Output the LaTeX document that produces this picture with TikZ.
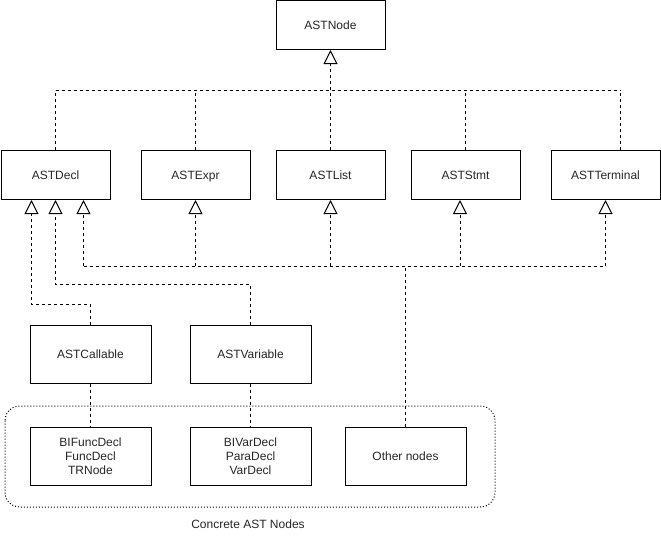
\documentclass[tikz,border=0pt]{standalone}
\usepackage{fontspec}
\setmainfont{Liberation Sans}
\usetikzlibrary{arrows.meta,calc}
\begin{document}
\begin{tikzpicture}[x=0.75pt,y=-0.75pt,
  box/.style={draw, line width=0.75pt, inner sep=0pt, align=center,
    font=\fontsize{9}{10.5}\selectfont, text=black!85},
  oneline/.style={text height=1.6ex, text depth=0.4ex},
  smallbox/.style={box, oneline, minimum width=81.75pt, minimum height=36.75pt},
  bigbox/.style={box, minimum width=90.75pt, minimum height=43.5pt},
  conn/.style={line width=0.75pt, dash pattern=on 2.25pt off 2.25pt},
  inh/.style={conn, -{Triangle[open, length=10.5pt, width=10.5pt, line width=0.75pt]}},
  group/.style={line width=0.75pt, dash pattern=on 0.75pt off 1.5pt, rounded corners=11pt},
]
\useasboundingbox (0,0) rectangle (661,536);

% abstract nodes
\node[smallbox] (astnode) at (330.5,25) {ASTNode};
\node[smallbox] (decl) at (55.5,175) {ASTDecl};
\node[smallbox] (expr) at (195.5,175) {ASTExpr};
\node[smallbox] (list) at (330.5,175) {ASTList};
\node[smallbox] (stmt) at (465.5,175) {ASTStmt};
\node[smallbox] (term) at (605.5,175) {ASTTerminal};

\node[bigbox, oneline] (callable) at (90.5,354) {ASTCallable};
\node[bigbox, oneline] (variable) at (250.5,354) {ASTVariable};

% concrete nodes
\node[bigbox] (funcs) at (90.5,456) {BIFuncDecl\\FuncDecl\\TRNode};
\node[bigbox] (vars) at (250.5,456) {BIVarDecl\\ParaDecl\\VarDecl};
\node[bigbox, oneline] (others) at (405.5,456) {Other nodes};

\draw[group] (5,406) rectangle (495,507);
\node[font=\fontsize{9}{10.5}\selectfont, text=black!85] (grouplabel) at (248,524) {Concrete AST Nodes};

% upper hub: all abstract kinds derive from ASTNode
\coordinate (hub) at (330.5,90);
\coordinate (termtop) at ($(term.north)+(14.5,0)$);
\draw[conn] (decl.north |- hub) -- (termtop |- hub);
\draw[conn] (decl.north) -- (decl.north |- hub);
\draw[conn] (expr.north) -- (expr.north |- hub);
\draw[conn] (stmt.north) -- (stmt.north |- hub);
\draw[conn] (termtop) -- (termtop |- hub);
\draw[inh] (list.north) -- (astnode.south);

% lower hub: other nodes derive from all abstract kinds
\coordinate (hub2) at (405.5,266);
\coordinate (declc) at ($(decl.south west)+(83,0)$);
\coordinate (stmtc) at ($(stmt.south)+(-5.5,0)$);
\draw[conn] (declc |- hub2) -- (term.south |- hub2);
\draw[inh] (declc |- hub2) -- (declc);
\draw[inh] (expr.south |- hub2) -- (expr.south);
\draw[inh] (list.south |- hub2) -- (list.south);
\draw[inh] (stmtc |- hub2) -- (stmtc);
\draw[inh] (term.south |- hub2) -- (term.south);
\draw[conn] (others.north) -- (hub2);

% ASTCallable and ASTVariable derive from ASTDecl
\coordinate (decla) at ($(decl.south west)+(31,0)$);
\coordinate (declb) at ($(decl.south west)+(55,0)$);
\draw[inh] (callable.north) -- ++(0,-20) -| (decla);
\draw[inh] (variable.north) -- ++(0,-40) -| (declb);

% concrete groups
\draw[conn] (callable.south) -- (funcs.north);
\draw[conn] (variable.south) -- (vars.north);
\end{tikzpicture}
\end{document}
